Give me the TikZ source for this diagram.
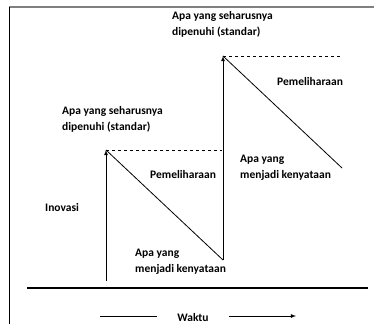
\documentclass[tikz,border=0pt]{standalone}
\usepackage{fontspec}
\setmainfont{Carlito}
\usetikzlibrary{arrows}
\tikzset{
  label/.style={font=\bfseries\fontsize{11.5}{16}\selectfont, align=left, anchor=west, inner sep=0pt},
  level/.style={thick, dashed},
  jump/.style={thick, ->},
  drop/.style={thick}
}
\begin{document}
\begin{tikzpicture}[x=1pt, y=-1pt, >=latex]
    \useasboundingbox (0,0) rectangle (374,324);

    % 1. Bingkai
    \draw[gray, line width=1.3pt] (9,7) -- (374,7);
    \draw[thick] (9.5,7) -- (9.5,324);
    \draw[line width=1.4pt] (27,288) -- (368,288);

    % 2. Titik-titik siklus
    \coordinate (A1) at (106,281);
    \coordinate (S1) at (106,150);
    \coordinate (D1) at (222,150);
    \coordinate (K1) at (223,260);
    \coordinate (S2) at (223,56);
    \coordinate (D2) at (340,56);
    \coordinate (K2) at (342,168);

    % 3. Inovasi (panah naik) dan pemeliharaan (garis turun)
    \draw[jump] (A1) -- (S1);
    \draw[level] (S1) -- (D1);
    \draw[drop] (S1) -- (K1);
    \draw[jump] (K1) -- (S2);
    \draw[level] (S2) -- (D2);
    \draw[drop] (S2) -- (K2);

    % 4. Label
    \node[label] (std2) at (172,24) {Apa yang seharusnya\\dipenuhi (standar)};
    \node[label] (std1) at (62,119) {Apa yang seharusnya\\dipenuhi (standar)};
    \node[label] (pem2) at (277,82) {Pemeliharaan};
    \node[label] (pem1) at (150,175) {Pemeliharaan};
    \node[label] (ken2) at (240,168) {Apa yang\\menjadi kenyataan};
    \node[label] (ken1) at (135,262) {Apa yang\\menjadi kenyataan};
    \node[label] (inov) at (45,208) {Inovasi};

    % 5. Sumbu waktu
    \node[label, anchor=center] (waktu) at (193,318) {Waktu};
    \coordinate (W0) at (100,316);
    \coordinate (W1) at (157,316);
    \coordinate (W2) at (229,316);
    \coordinate (W3) at (296,316);
    \draw[thick] (W0) -- (W1);
    \draw[thick, ->] (W2) -- (W3);
\end{tikzpicture}
\end{document}
